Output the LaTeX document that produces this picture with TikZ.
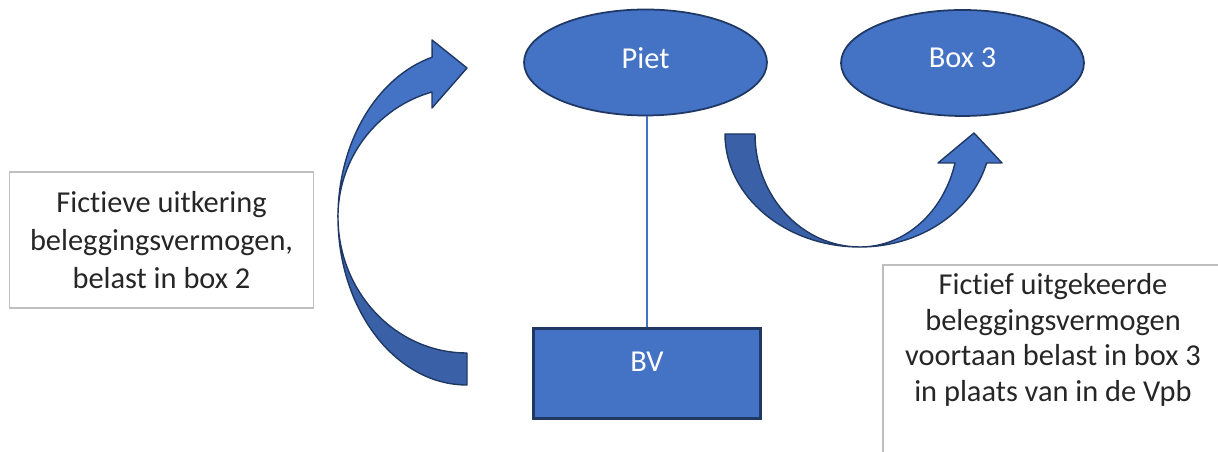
\documentclass[tikz,border=0pt]{standalone}
\usepackage{fontspec}
\setmainfont{Carlito}[Ligatures=NoCommon,Contextuals=NoAlternate]
\usetikzlibrary{shapes.geometric}
\definecolor{ppblue}{HTML}{4472C4}
\definecolor{ppback}{HTML}{3A61A7}
\definecolor{ppedge}{HTML}{1F3864}
\definecolor{ppgrey}{HTML}{BFBFBF}

\begin{document}
\begin{tikzpicture}[x=0.02cm,y=0.02cm,
  blob/.style={ellipse,draw=ppedge,line width=1pt,fill=ppblue,text=white,
    minimum width=4.86cm,minimum height=2.12cm,inner sep=0pt,text depth=0.56em,
    font=\fontsize{17.3}{21}\selectfont},
  note/.style={align=center,text=black!85},
  band/.style={draw=ppedge,line width=0.8pt,line join=round}]
\useasboundingbox (0,0) rectangle (1218,452);
\node[blob] (piet) at (645.5,389.5) {Piet};
\node[blob] (box3) at (962.5,389) {Box 3};
\node[draw=ppedge,line width=1.6pt,fill=ppblue,text=white,minimum width=4.54cm,
  minimum height=1.8cm,text depth=1.33em,font=\fontsize{17.3}{21}\selectfont] (bv) at (647,78.5) {BV};
\draw[ppblue,line width=0.8pt] (bv.north) -- (bv.north |- piet.south);
\node[note,draw=ppgrey,line width=0.6pt,minimum width=6.1cm,minimum height=2.72cm,
  font=\fontsize{17.3}{21.5}\selectfont] (uitkering) at (161.5,212)
  {Fictieve uitkering\\beleggingsvermogen,\\belast in box 2};
\node[note,font=\fontsize{17.3}{20.2}\selectfont] (uitleg) at (1053,112)
  {Fictief uitgekeerde\\beleggingsvermogen\\voortaan belast in box 3\\in plaats van in de Vpb};
\draw[ppgrey,line width=0.6pt] (1225,187) -| (883,-5); % kader loopt door
% boog links
\draw[band,fill=ppback] (467,67) arc (270:180:129 and 168) arc (180:270:129 and 136) -- cycle;
\draw[band,fill=ppblue] (338,235) arc (180:105.7:129 and 166) -- (432,412) -- (467,384)
  -- (432,344) -- (432,360) arc (105.7:180:129 and 130) -- cycle;
% boog rechts
\draw[band,fill=ppback] (725,318) arc (180:270:135 and 113) arc (270:180:105 and 113) -- cycle;
\draw[band,fill=ppblue] (860,205) arc (270:345.13:131 and 113) -- (1002,289) -- (974,319)
  -- (938,289) -- (955,289) arc (345.13:270:98 and 113) -- cycle;
\end{tikzpicture}
\end{document}
